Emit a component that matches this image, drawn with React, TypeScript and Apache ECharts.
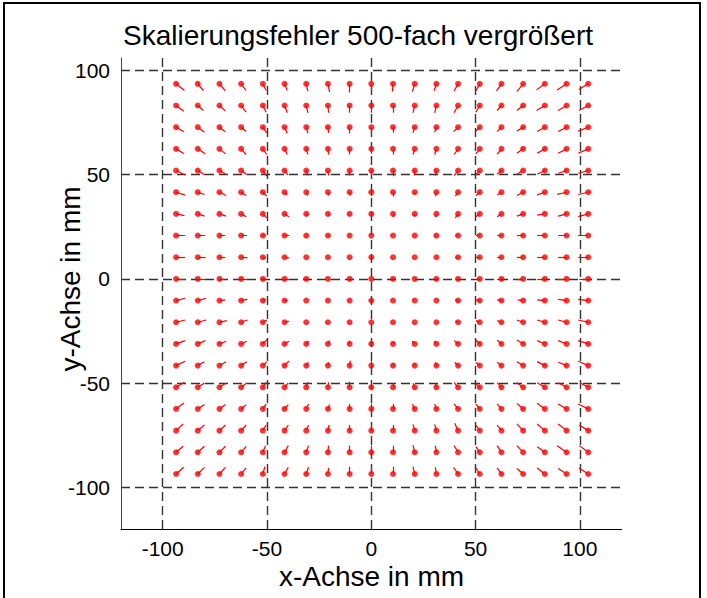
import React, { useEffect, useRef } from "react";
import * as echarts from "echarts";

const TITLE = "Skalierungsfehler 500-fach vergrößert";
const X_NAME = "x-Achse in mm";
const Y_NAME = "y-Achse in mm";
const X_TICKS = [-100, -50, 0, 50, 100];
const Y_TICKS = [-100, -50, 0, 50, 100];
const X_MIN = -120;
const X_MAX = 120;
const Y_MIN = -120;
const Y_MAX = 106;

// grid point positions (mm)
const X_POS = [-93.6, -83.2, -72.8, -62.4, -52, -41.6, -31.2, -20.8, -10.4, 0, 10.4, 20.8, 31.2, 41.6, 52, 62.4, 72.8, 83.2, 93.6, 104];
const Y_POS = [93.6, 83.2, 72.8, 62.4, 52, 41.6, 31.2, 20.8, 10.4, 0, -10.4, -20.8, -31.2, -41.6, -52, -62.4, -72.8, -83.2, -93.6];

// scaled error vectors (x component), one row per Y_POS
const U = [
  [4.0, 2.7, 2.7, 2.4, 1.6, 1.3, 0.8, 0.8, 0, 0, -0.3, -1.1, -1.1, -1.9, -1.9, -2.4, -3.0, -4.0, -4.5, -4.5],
  [3.7, 2.7, 2.9, 2.4, 1.6, 1.3, 0.8, 0.3, 0, 0, 0, -0.8, -0.8, -1.9, -1.9, -2.1, -3.0, -4.0, -4.0, -4.5],
  [3.7, 3.2, 2.7, 2.4, 1.9, 1.3, 0.8, 0.3, 0, 0, 0, -0.8, -0.8, -2.2, -1.9, -2.1, -3.0, -3.7, -4.0, -4.8],
  [3.7, 3.5, 2.9, 2.4, 1.9, 1.3, 0.8, 0.3, 0, 0, 0, -0.8, -0.8, -1.9, -1.9, -2.1, -3.0, -3.7, -4.0, -4.8],
  [4.3, 3.5, 3.2, 2.7, 1.9, 1.6, 0.8, 0.3, 0, 0, 0, 0, -0.5, -1.9, -1.9, -2.1, -3.0, -3.7, -4.0, -4.8],
  [4.3, 3.2, 3.2, 2.4, 1.9, 1.3, 0.8, 0.3, 0.3, 0, 0, 0, -0.5, -1.3, -1.9, -2.1, -3.0, -3.7, -4.5, -4.8],
  [4.0, 3.2, 3.2, 2.4, 1.9, 2.1, 0.5, 0, 0, 0, 0, 0, -0.5, -1.3, -1.9, -2.1, -3.0, -3.7, -4.0, -4.8],
  [4.3, 3.5, 2.7, 2.7, 1.4, 2.1, 0.3, 0, 0, 0, 0, 0, -0.5, -1.3, -1.9, -2.1, -3.0, -3.7, -4.0, -4.8],
  [4.3, 3.7, 2.7, 3.0, 1.4, 2.1, 0, 0, 0, 0, 0, 0, 0, -1.3, -1.9, -2.1, -3.0, -3.7, -4.0, -4.8],
  [4.3, 3.7, 2.7, 3.0, 1.4, 2.1, 0.8, 0.5, 0, 0, 0, 0, 0, -1.3, -1.9, -2.1, -3.0, -3.7, -4.0, -4.3],
  [4.3, 4.0, 2.7, 3.0, 1.4, 1.3, 0, 0, 0, 0, 0, 0, 0, -1.3, -1.9, -2.1, -2.7, -3.7, -4.0, -4.8],
  [4.3, 4.0, 3.5, 3.0, 1.9, 2.1, 0, 0, 0, 0, 0, 0, 0, -1.3, -1.9, -2.1, -3.0, -3.7, -4.0, -4.8],
  [4.3, 3.5, 3.2, 2.7, 1.9, 2.1, 1.1, 0.8, 0, 0, 0, -1.1, -1.1, -1.9, -1.9, -2.1, -3.0, -3.7, -4.0, -4.8],
  [4.3, 3.2, 3.2, 2.7, 1.9, 2.1, 1.1, 0.3, 0.3, 0, 0, -0.5, -0.5, -1.6, -1.9, -2.1, -3.0, -3.7, -4.0, -4.8],
  [4.0, 3.2, 3.2, 2.7, 1.6, 1.8, 0.8, 0.3, 0, 0, 0, -0.8, -0.5, -1.9, -1.9, -2.1, -3.0, -3.7, -4.0, -4.0],
  [3.7, 3.2, 2.9, 2.4, 1.6, 1.8, 1.1, 0.8, 0, 0, 0, -1.1, -0.8, -1.9, -1.9, -2.1, -3.0, -3.7, -4.0, -4.8],
  [3.4, 3.2, 2.9, 2.4, 1.6, 1.8, 1.1, 0.5, 0, 0, 0, -0.8, -0.8, -1.6, -1.9, -2.1, -3.0, -3.7, -4.0, -4.3],
  [3.4, 3.2, 2.9, 2.4, 1.3, 1.8, 1.1, 0.3, 0, 0, 0, -0.8, -0.5, -1.9, -1.9, -2.1, -3.0, -3.7, -4.5, -4.3],
  [3.7, 3.2, 2.9, 2.4, 1.0, 1.8, 1.1, 0.3, 0, 0, 0, -0.8, -0.5, -2.2, -1.9, -2.1, -3.0, -3.7, -4.0, -4.5],
];

// scaled error vectors (y component), one row per Y_POS
const V = [
  [-3.2, -3.2, -3.2, -3.2, -3.2, -3.2, -3.5, -4.0, -4.2, -3.5, -3.7, -3.7, -3.4, -3.4, -3.4, -3.4, -3.7, -2.9, -2.9, -2.7],
  [-2.7, -2.4, -2.7, -3.2, -3.2, -3.5, -3.5, -3.5, -3.5, -3.5, -3.5, -3.5, -3.5, -3.5, -3.2, -2.4, -2.4, -2.4, -2.4, -2.4],
  [-2.2, -2.4, -2.2, -2.1, -2.7, -3.0, -3.0, -2.7, -3.0, -2.7, -2.7, -2.7, -2.4, -2.1, -1.8, -2.1, -1.8, -2.1, -2.1, -1.9],
  [-2.2, -2.4, -2.4, -2.7, -2.7, -2.7, -2.7, -2.7, -2.7, -2.4, -2.7, -2.7, -2.7, -2.7, -2.4, -2.7, -2.1, -2.1, -2.1, -2.1],
  [-2.1, -2.1, -1.9, -1.9, -2.7, -2.1, -2.4, -2.4, -2.4, -2.4, -2.7, -2.4, -2.4, -2.4, -2.1, -1.8, -1.8, -1.8, -1.3, -1.3],
  [-1.4, -1.1, -1.6, -1.6, -1.9, -1.3, -1.6, -1.6, -1.6, -1.9, -2.1, -0.8, -1.9, -1.9, -1.6, -1.3, -1.6, -1.3, -1.0, -1.1],
  [-0.8, -1.1, -1.1, -1.4, -1.9, -1.4, -1.1, -0.8, -0.5, -1.3, -1.6, -1.1, -1.6, -1.9, -1.4, -1.4, -1.1, -0.6, -1.1, -1.3],
  [0, 0, 0, 0, 0, 0, -0.5, -0.5, 0, 0, 0, 0, -0.3, 0, 0, 0, 0, 0, 0, 0],
  [0, 0, 0, -0.3, -0.3, -0.3, 0, 0, 0, 0, 0, 0, 0, 0, 0, 0, 0, 0, 0, 0],
  [0, 0, 0, 0, 0, 0, 0, 0, 0, 0, 0, 0, 0, 0, 0, 0, 0, 0, 0, 0],
  [1.1, 1.1, 0.3, 0.6, 0.3, 0, 0, 0, 0, 0, 0, 0, 0, 0.3, 0.3, 0.3, 0.3, 0.3, 0.6, 0.6],
  [1.1, 1.1, 0.8, 1.1, 1.1, 0.5, 0, 0, 0, 0, 0, 0, 0, 0.5, 0.8, 0.8, 1.1, 1.1, 1.1, 1.1],
  [1.6, 1.6, 1.3, 1.3, 2.1, 1.3, 1.3, 1.6, 1.6, 1.8, 1.3, 1.4, 1.3, 1.6, 1.9, 1.9, 1.9, 1.6, 1.6, 1.6],
  [2.1, 1.9, 1.9, 1.9, 1.9, 2.2, 1.6, 1.6, 2.4, 2.1, 1.3, 1.3, 1.6, 1.6, 1.6, 1.6, 1.9, 1.9, 1.6, 2.1],
  [2.4, 2.1, 2.1, 2.1, 2.4, 2.1, 2.4, 2.4, 2.7, 2.1, 1.9, 1.9, 1.9, 2.2, 1.9, 2.2, 2.2, 2.2, 2.2, 2.2],
  [2.9, 2.1, 2.1, 2.1, 2.4, 2.1, 2.4, 2.1, 2.4, 2.6, 2.4, 2.4, 2.4, 2.4, 2.4, 2.4, 2.7, 2.7, 2.4, 2.4],
  [3.2, 2.7, 2.7, 2.7, 2.7, 2.7, 2.7, 2.7, 2.7, 2.7, 2.7, 3.0, 3.0, 3.5, 2.7, 2.7, 3.2, 3.2, 3.2, 2.7],
  [2.9, 2.9, 2.9, 2.9, 3.2, 3.2, 3.2, 3.2, 3.2, 3.2, 3.2, 3.5, 3.2, 3.2, 2.7, 3.2, 3.2, 2.7, 3.2, 3.2],
  [3.2, 3.2, 3.2, 2.9, 3.5, 3.2, 3.2, 2.9, 3.5, 3.5, 3.5, 3.5, 3.2, 3.2, 2.9, 2.9, 2.6, 2.9, 2.6, 2.9],
];

const FONT = '"Liberation Sans", Arial, Helvetica, sans-serif';

export default function App() {
  const ref = useRef<HTMLDivElement>(null);

  useEffect(() => {
    if (!ref.current) return;
    const chart = echarts.init(ref.current, null, { renderer: "svg" });

    const points: number[][] = [];
    const vectors: { coords: number[][] }[] = [];
    Y_POS.forEach((y, r) => {
      X_POS.forEach((x, c) => {
        points.push([x, y]);
        vectors.push({ coords: [[x, y], [x + U[r][c], y + V[r][c]]] });
      });
    });

    const gridLines = [
      ...X_TICKS.map((v) => ({ coords: [[v, Y_MIN], [v, Y_MAX]] })),
      ...Y_TICKS.map((v) => ({ coords: [[X_MIN, v], [X_MAX, v]] })),
    ];

    chart.setOption({
      animation: false,
      backgroundColor: "#ffffff",
      grid: { left: 121, right: 85.4, top: 58, bottom: 69 },
      xAxis: {
        type: "value",
        min: X_MIN,
        max: X_MAX,
        splitLine: { show: false },
        axisTick: { show: false },
        axisLine: { show: true, onZero: false, lineStyle: { color: "#000", width: 1 } },
        axisLabel: {
          customValues: X_TICKS,
          color: "#000",
          fontSize: 21,
          fontFamily: FONT,
          margin: 9,
        },
      },
      yAxis: {
        type: "value",
        min: Y_MIN,
        max: Y_MAX,
        splitLine: { show: false },
        axisTick: { show: false },
        axisLine: { show: true, onZero: false, lineStyle: { color: "#444", width: 1 } },
        axisLabel: {
          customValues: Y_TICKS,
          color: "#000",
          fontSize: 21,
          fontFamily: FONT,
          margin: 11,
        },
      },
      series: [
        {
          type: "lines",
          coordinateSystem: "cartesian2d",
          silent: true,
          z: 1,
          lineStyle: { color: "#333", width: 1.4, type: [9, 5], opacity: 1 },
          data: gridLines,
        },
        {
          type: "lines",
          coordinateSystem: "cartesian2d",
          silent: true,
          z: 3,
          lineStyle: { color: "#ff0000", width: 1.2, opacity: 1 },
          data: vectors,
        },
        {
          type: "scatter",
          silent: true,
          z: 4,
          symbol: "circle",
          symbolSize: 6,
          itemStyle: { color: "#ff0000" },
          data: points,
        },
      ],
      graphic: [
        {
          type: "text",
          x: 358,
          y: 35,
          style: {
            text: TITLE,
            fontSize: 28,
            fontFamily: FONT,
            fill: "#000",
            align: "center",
            verticalAlign: "middle",
          },
        },
        {
          type: "text",
          x: 371.5,
          y: 576,
          style: {
            text: X_NAME,
            fontSize: 28,
            fontFamily: FONT,
            fill: "#000",
            align: "center",
            verticalAlign: "middle",
          },
        },
        {
          type: "text",
          x: 70,
          y: 279,
          rotation: Math.PI / 2,
          style: {
            text: Y_NAME,
            fontSize: 28,
            fontFamily: FONT,
            fill: "#000",
            align: "center",
            verticalAlign: "middle",
          },
        },
        {
          type: "rect",
          shape: { x: 4, y: 3, width: 696, height: 600 },
          style: { fill: "none", stroke: "#000", lineWidth: 2 },
          z: 100,
        },
      ],
    });

    return () => chart.dispose();
  }, []);

  return (
    <div
      ref={ref}
      style={{ position: "fixed", left: 0, top: 0, width: 707, height: 598 }}
    />
  );
}
